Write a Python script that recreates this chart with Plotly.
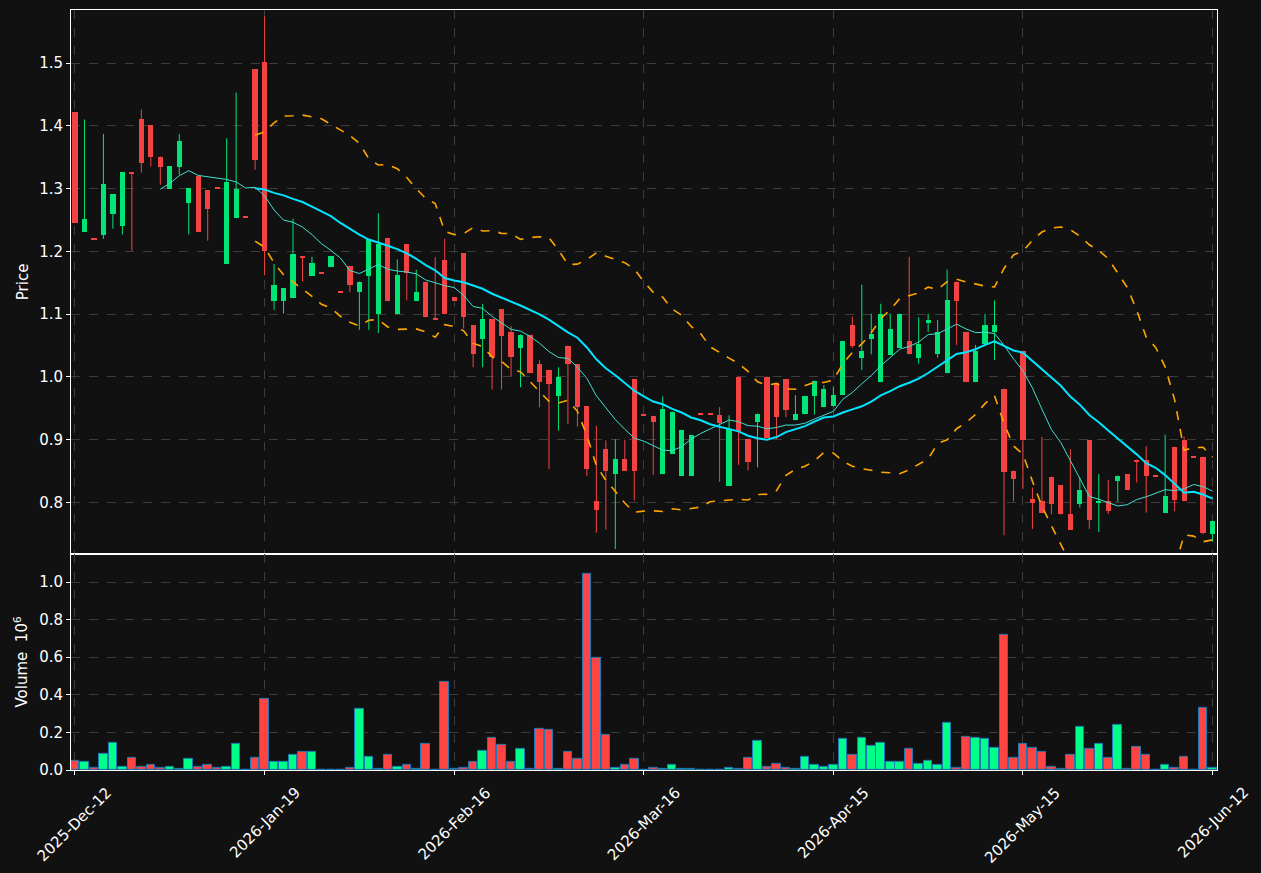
import pandas as pd
import plotly.graph_objects as go

# ---------------- data ----------------
tick_positions = [0, 20, 40, 60, 80, 100, 120]
tick_labels = ["2025-Dec-12", "2026-Jan-19", "2026-Feb-16", "2026-Mar-16",
               "2026-Apr-15", "2026-May-15", "2026-Jun-12"]

opens = [1.422, 1.231, 1.2207, 1.226, 1.2595, 1.240, 1.3258, 1.4105, 1.401, 1.351,
         1.300, 1.3345, 1.277, 1.320, 1.297, 1.3008, 1.180, 1.253, 1.2556, 1.490,
         1.501, 1.121, 1.121, 1.1255, 1.192, 1.161, 1.1663, 1.175, 1.136, 1.176,
         1.135, 1.1606, 1.1006, 1.2207, 1.100, 1.2112, 1.1207, 1.152, 1.0918, 1.187,
         1.1266, 1.197, 1.082, 1.060, 1.0916, 1.1075, 1.0724, 1.0458, 1.0676, 1.0214,
         1.0118, 0.9692, 1.050, 1.021, 0.953, 0.803, 0.886, 0.845, 0.870, 0.997,
         0.9403, 0.9384, 0.845, 0.877, 0.843, 0.843, 0.9419, 0.9419, 0.940, 0.827,
         1.0006, 0.902, 0.929, 1.0006, 0.990, 0.996, 0.931, 0.9405, 0.969, 0.952,
         0.953, 0.971, 1.082, 1.031, 1.060, 0.9916, 1.035, 1.046, 1.0565, 1.031,
         1.086, 1.036, 1.006, 1.152, 1.072, 0.9916, 1.053, 1.071, 0.9815, 0.851,
         1.042, 0.805, 0.803, 0.841, 0.828, 0.782, 0.797, 0.900, 0.800, 0.803,
         0.835, 0.8455, 0.8683, 0.8683, 0.8423, 0.784, 0.889, 0.900, 0.8729, 0.873,
         0.7497]
highs = [1.422, 1.410, 1.2207, 1.387, 1.291, 1.326, 1.3258, 1.426, 1.401, 1.351,
         1.3355, 1.387, 1.3005, 1.320, 1.297, 1.3008, 1.380, 1.453, 1.2556, 1.490,
         1.574, 1.180, 1.141, 1.252, 1.192, 1.1915, 1.1663, 1.192, 1.136, 1.176,
         1.152, 1.2197, 1.2606, 1.2207, 1.187, 1.2112, 1.171, 1.152, 1.191, 1.220,
         1.1266, 1.197, 1.082, 1.1166, 1.0916, 1.1075, 1.081, 1.0676, 1.0676, 1.0267,
         1.0118, 1.0155, 1.050, 1.021, 0.953, 0.922, 0.899, 0.901, 0.900, 0.997,
         0.9403, 0.9384, 0.969, 0.945, 0.916, 0.908, 0.9419, 0.9419, 0.952, 0.939,
         1.0006, 0.902, 0.9416, 1.0006, 0.990, 0.996, 0.971, 0.970, 0.994, 0.987,
         0.985, 1.0565, 1.096, 1.147, 1.1006, 1.1166, 1.1006, 1.101, 1.1915, 1.095,
         1.1006, 1.091, 1.171, 1.152, 1.072, 1.051, 1.1006, 1.122, 0.9815, 0.851,
         1.042, 0.824, 0.9045, 0.841, 0.828, 0.885, 0.840, 0.900, 0.8455, 0.836,
         0.843, 0.8455, 0.8683, 0.890, 0.8423, 0.908, 0.889, 0.905, 0.8729, 0.873,
         0.771]
lows = [1.245, 1.231, 1.2200, 1.220, 1.236, 1.227, 1.201, 1.3255, 1.335, 1.306,
        1.300, 1.322, 1.227, 1.231, 1.217, 1.3002, 1.180, 1.253, 1.2550, 1.330,
        1.162, 1.107, 1.101, 1.1255, 1.152, 1.161, 1.1657, 1.175, 1.1355, 1.135,
        1.075, 1.075, 1.070, 1.1207, 1.100, 1.122, 1.1207, 1.095, 1.0912, 1.100,
        1.1207, 1.077, 1.0155, 1.0155, 0.980, 0.980, 1.001, 0.9836, 1.0059, 0.9517,
        0.8534, 0.9145, 0.925, 0.921, 0.842, 0.752, 0.757, 0.726, 0.851, 0.803,
        0.9397, 0.844, 0.845, 0.877, 0.843, 0.843, 0.9413, 0.9413, 0.833, 0.827,
        0.860, 0.851, 0.856, 0.903, 0.901, 0.936, 0.931, 0.9405, 0.940, 0.952,
        0.953, 0.971, 1.046, 1.011, 1.036, 0.9916, 1.035, 1.046, 1.036, 1.021,
        1.072, 1.031, 1.006, 1.051, 0.9916, 0.9916, 1.053, 1.027, 0.748, 0.802,
        0.8215, 0.758, 0.784, 0.7815, 0.781, 0.7566, 0.792, 0.758, 0.753, 0.7815,
        0.801, 0.820, 0.832, 0.784, 0.8417, 0.784, 0.786, 0.8018, 0.8723, 0.7497,
        0.7375]
closes = [1.245, 1.251, 1.2203, 1.307, 1.291, 1.326, 1.3252, 1.341, 1.350, 1.3345,
          1.3355, 1.375, 1.3005, 1.231, 1.2675, 1.3005, 1.310, 1.300, 1.2553, 1.3456,
          1.201, 1.147, 1.141, 1.196, 1.190, 1.181, 1.166, 1.192, 1.1357, 1.146,
          1.152, 1.2197, 1.2123, 1.1207, 1.1617, 1.166, 1.136, 1.095, 1.0915, 1.100,
          1.1207, 1.095, 1.036, 1.0916, 1.0314, 1.066, 1.0314, 1.0676, 1.0059, 0.9916,
          0.9884, 1.0006, 1.021, 0.952, 0.853, 0.7885, 0.851, 0.870, 0.851, 0.851,
          0.940, 0.928, 0.9496, 0.945, 0.916, 0.908, 0.9416, 0.9416, 0.927, 0.917,
          0.9145, 0.864, 0.9416, 0.903, 0.937, 0.947, 0.9416, 0.970, 0.994, 0.9815,
          0.972, 1.0565, 1.050, 1.042, 1.068, 1.101, 1.077, 1.101, 1.036, 1.052,
          1.0915, 1.072, 1.122, 1.121, 0.9916, 1.042, 1.082, 1.082, 0.848, 0.837,
          0.900, 0.800, 0.784, 0.7976, 0.781, 0.7566, 0.8204, 0.773, 0.803, 0.787,
          0.843, 0.820, 0.8656, 0.8416, 0.842, 0.8097, 0.8045, 0.8018, 0.8726, 0.7523,
          0.771]
volumes = [51000, 46000, 14000, 85000, 147000, 19000, 67000, 19000, 30000, 14000,
           19000, 4000, 57000, 19000, 25000, 14000, 19000, 141000, 3000, 62000,
           380000, 41000, 46000, 80000, 99000, 99000, 0, 3000, 0, 9000,
           327000, 72000, 5000, 83000, 19000, 25000, 5000, 141000, 0, 470000,
           7000, 14000, 41000, 104000, 173000, 136000, 41000, 115000, 7000, 221000,
           216000, 7000, 99000, 57000, 1042000, 597000, 189000, 14000, 30000, 57000,
           0, 14000, 5000, 30000, 5000, 5000, 0, 0, 3000, 9000,
           4000, 62000, 157000, 19000, 35000, 14000, 5000, 72000, 25000, 19000,
           25000, 168000, 83000, 173000, 131000, 147000, 41000, 46000, 115000, 35000,
           51000, 30000, 253000, 14000, 178000, 173000, 168000, 120000, 719000, 62000,
           141000, 120000, 94000, 19000, 5000, 78000, 231000, 115000, 141000, 67000,
           242000, 7000, 125000, 78000, 0, 30000, 14000, 72000, 0, 332000,
           14000]

# ---------------- derived indicators ----------------
close_s = pd.Series(closes)
ma10 = close_s.rolling(10).mean()
ma20 = close_s.rolling(20).mean()
sd20 = close_s.rolling(20).std(ddof=0)
bb_up = ma20 + 2 * sd20
bb_lo = ma20 - 2 * sd20

# ---------------- styling ----------------
BG = "#111111"
UP_C = "#00e676"
DN_C = "#f44242"
VUP_C = "#00ff88"
VDN_C = "#ff4444"
GRID = "#3c3c3c"
MIN_BODY = 0.0016

n = len(closes)
idx = list(range(n))
up = [closes[i] >= opens[i] for i in idx]

fig = go.Figure()

# wicks
for flag, col in ((True, UP_C), (False, DN_C)):
    wx, wy = [], []
    for i in idx:
        if up[i] == flag:
            wx += [i, i, None]
            wy += [lows[i], highs[i], None]
    fig.add_trace(go.Scatter(x=wx, y=wy, mode="lines", line=dict(color=col, width=1),
                             hoverinfo="skip", xaxis="x", yaxis="y"))

# bodies
for flag, col in ((True, UP_C), (False, DN_C)):
    bx, bbase, bh = [], [], []
    for i in idx:
        if up[i] == flag:
            lo = min(opens[i], closes[i])
            h = abs(closes[i] - opens[i])
            if h < MIN_BODY:
                lo = (opens[i] + closes[i]) / 2 - MIN_BODY / 2
                h = MIN_BODY
            bx.append(i); bbase.append(lo); bh.append(h)
    fig.add_trace(go.Bar(x=bx, y=bh, base=bbase, width=0.55,
                         marker=dict(color=col, line=dict(width=0)),
                         xaxis="x", yaxis="y"))

# moving averages and bands
fig.add_trace(go.Scatter(x=idx, y=ma10, mode="lines", line=dict(color="#40e0d0", width=1),
                         xaxis="x", yaxis="y"))
fig.add_trace(go.Scatter(x=idx, y=ma20, mode="lines", line=dict(color="#00e5ff", width=2),
                         xaxis="x", yaxis="y"))
for band in (bb_up, bb_lo):
    fig.add_trace(go.Scatter(x=idx, y=band, mode="lines",
                             line=dict(color="#ffa500", width=1.6, dash="dash"),
                             xaxis="x", yaxis="y"))

# volume
for flag, col in ((True, VUP_C), (False, VDN_C)):
    vx = [i for i in idx if up[i] == flag]
    vy = [volumes[i] for i in idx if up[i] == flag]
    fig.add_trace(go.Bar(x=vx, y=vy, width=0.9,
                         marker=dict(color=col, line=dict(color="#1f77b4", width=1)),
                         xaxis="x2", yaxis="y2"))

SPLIT = (770 - 553) / 763
xr = [-0.42, 120.47]
axis_common = dict(showline=True, linecolor="white", linewidth=1, mirror=True,
                   gridcolor=GRID, griddash="dash", gridwidth=1, zeroline=False,
                   ticks="outside", ticklen=4, tickcolor="white", automargin=False,
                   tickfont=dict(color="white", size=15))

# rotated date labels, centred on their ticks
for pos, lab in zip(tick_positions, tick_labels):
    fig.add_annotation(x=pos, y=-11 / 763, xref="x2", yref="paper", text=lab,
                       textangle=-45, showarrow=False, xanchor="center", yanchor="top",
                       font=dict(color="white", size=15, family="DejaVu Sans"))

fig.update_layout(
    width=1261, height=873,
    margin=dict(l=71, r=44, t=10, b=103),
    paper_bgcolor=BG, plot_bgcolor=BG,
    font=dict(family="DejaVu Sans", color="white", size=15),
    showlegend=False, barmode="overlay", bargap=0,
    xaxis=dict(domain=[0, 1], range=xr, anchor="y", tickvals=tick_positions,
               ticktext=tick_labels, showticklabels=False, **axis_common),
    yaxis=dict(domain=[SPLIT, 1], range=[0.7183, 1.5844], anchor="x",
               tickvals=[0.8, 0.9, 1.0, 1.1, 1.2, 1.3, 1.4, 1.5],
               ticktext=["0.8", "0.9", "1.0", "1.1", "1.2", "1.3", "1.4", "1.5"],
               title=dict(text="Price", standoff=6, font=dict(size=15)), **axis_common),
    xaxis2=dict(domain=[0, 1], range=xr, anchor="y2", tickvals=tick_positions,
                ticktext=tick_labels, showticklabels=False, matches="x", **axis_common),
    yaxis2=dict(domain=[0, SPLIT], range=[0, 1.15e6], anchor="x2",
                tickvals=[0, 200000, 400000, 600000, 800000, 1000000],
                ticktext=["0.0", "0.2", "0.4", "0.6", "0.8", "1.0"],
                title=dict(text="Volume  10<sup>6</sup>", standoff=7, font=dict(size=15)),
                **axis_common),
)

fig.write_html("out.html")
